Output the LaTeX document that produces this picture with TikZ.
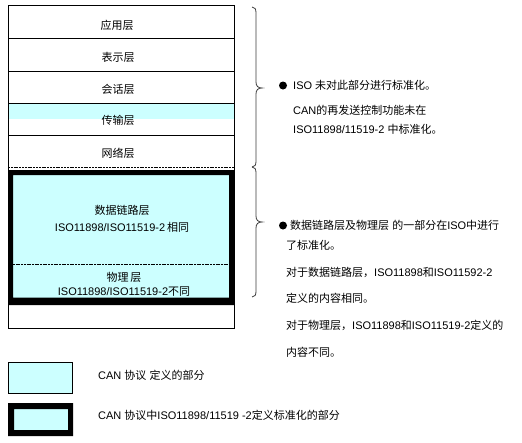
\documentclass[tikz,border=0pt]{standalone}
\usepackage{fontspec}
\setmainfont{Liberation Sans}
\newfontfamily\cjk{Noto Sans CJK SC}
\newcommand\zhs[1]{{\cjk #1}}
\definecolor{lcyan}{RGB}{204,255,255}
\definecolor{bracegray}{RGB}{60,60,60}
\tikzset{
  lbl/.style={inner sep=0pt, font=\fontsize{11pt}{12pt}\selectfont},
  txt/.style={inner sep=0pt, anchor=west, font=\fontsize{11pt}{13pt}\selectfont},
  thinline/.style={line width=0.9pt},
  bracestyle/.style={draw=bracegray, line width=0.8pt},
}
\begin{document}
\begin{tikzpicture}[x=1pt,y=-1pt]
\useasboundingbox (0,0) rectangle (522,442);
% cyan band in transport layer
\fill[lcyan] (8,103.5) rectangle (234,119);
% outer box and dividers
\draw[thinline] (8,5) rectangle (234,328);
\draw[thinline] (8,38) -- (234,38);
\draw[thinline] (8,71) -- (234,71);
\draw[thinline] (8,103.5) -- (234,103.5);
\draw[thinline] (8,135.5) -- (234,135.5);
\draw[line width=0.8pt, dash pattern=on 2pt off 0.8pt] (8,167) -- (234,167);
% thick CAN box
\fill[lcyan] (8,170) rectangle (234,305);
\fill[black, even odd rule] (8,170) rectangle (234,305) (13,175) rectangle (229,297.5);
\draw[line width=0.8pt, dash pattern=on 2pt off 0.7pt] (13,264) -- (229,264);
% layer labels
\node[lbl] (app) at (117,25) {\zhs{应用层}};
\node[lbl] (pres) at (118,57) {\zhs{表示层}};
\node[lbl] (sess) at (118,89) {\zhs{会话层}};
\node[lbl] (trans) at (118,120) {\zhs{传输层}};
\node[lbl] (net) at (118,153) {\zhs{网络层}};
\node[lbl] (dl1) at (122,210) {\zhs{数据链路层}};
\node[lbl] (dl2) at (122,227) {ISO11898/ISO11519-2\,\zhs{相同}};
\node[lbl] (ph1) at (124,277) {\zhs{物理}\,\zhs{层}};
\node[lbl] (ph2) at (124,292) {ISO11898/ISO11519-2\zhs{不同}};
% braces
\draw[bracestyle] (252,7) .. controls (255,7) and (256,9) .. (256,13) -- (256,82)
  .. controls (256,86) and (258,88) .. (262,88)
  .. controls (258,88) and (256,90) .. (256,94) -- (256,161)
  .. controls (256,165) and (255,167) .. (252,167);
\draw[bracestyle] (252,167) .. controls (255,167) and (256,169) .. (256,173) -- (256,216)
  .. controls (256,220) and (258,222) .. (262,222)
  .. controls (258,222) and (256,224) .. (256,228) -- (256,291)
  .. controls (256,295) and (255,297) .. (252,297);
% right texts, group 1
\fill (283,85.5) circle (4pt);
\node[txt] (t1) at (293,85) {ISO \zhs{未对此部分进行标准化。}};
\node[txt] (t2) at (293,110) {CAN\zhs{的再发送控制功能未在}};
\node[txt] (t3) at (293,129) {ISO11898/11519-2 \zhs{中标准化。}};
% right texts, group 2
\fill (283,225.5) circle (4pt);
\node[txt] (u1) at (290,225) {\zhs{数据链路层及物理层}\ \zhs{的一部分在}ISO\zhs{中进行}};
\node[txt] (u2) at (286,245) {\zhs{了标准化。}};
\node[txt] (u3) at (286,272) {\zhs{对于数据链路层，}ISO11898\zhs{和}ISO11592-2};
\node[txt] (u4) at (286,298) {\zhs{定义的内容相同。}};
\node[txt] (u5) at (286,325) {\zhs{对于物理层，}ISO11898\zhs{和}ISO11519-2\zhs{定义的}};
\node[txt] (u6) at (286,352) {\zhs{内容不同。}};
% legend
\draw[fill=lcyan, line width=0.9pt] (8.5,362) rectangle (72.5,393);
\fill[lcyan] (8,403) rectangle (73,436);
\fill[black, even odd rule] (8,403) rectangle (73,436) (14,409) rectangle (68,430);
\node[txt] (l1) at (98,375) {CAN \zhs{协议}\ \zhs{定义的部分}};
\node[txt] (l2) at (98,415) {CAN \zhs{协议中}ISO11898/11519 -2\zhs{定义标准化的部分}};
\end{tikzpicture}
\end{document}
